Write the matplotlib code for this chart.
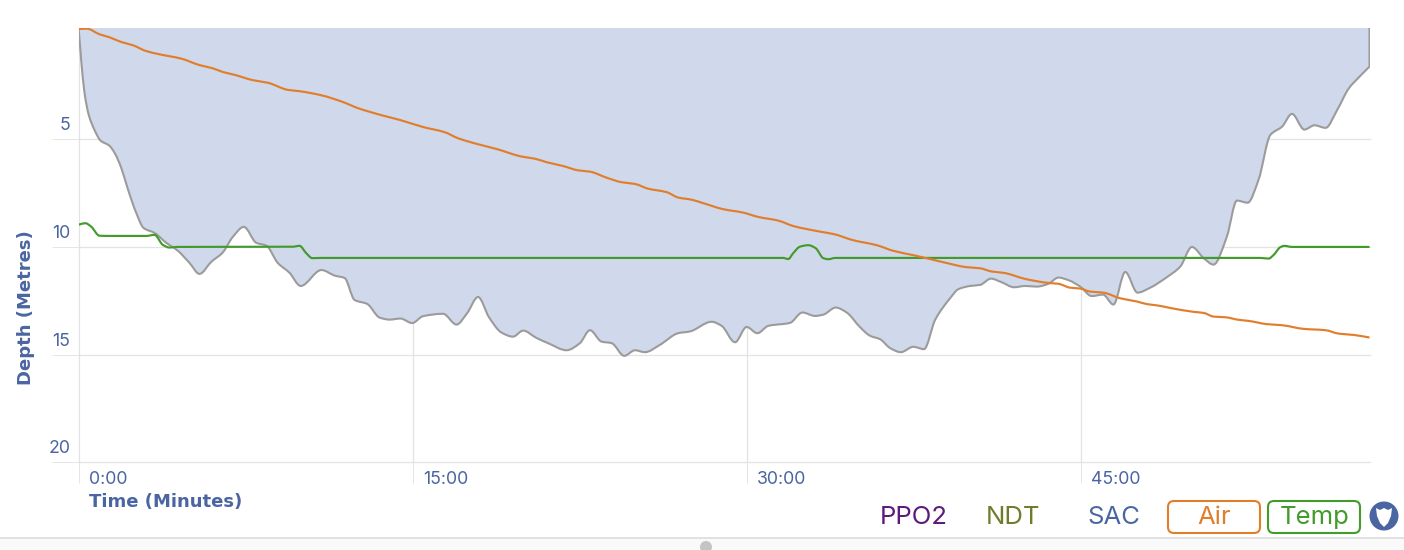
import numpy as np
import matplotlib
matplotlib.use("Agg")
import matplotlib.pyplot as plt
from matplotlib.path import Path
from matplotlib.patches import PathPatch, FancyBboxPatch, Circle, Polygon
from matplotlib.transforms import ScaledTranslation

# ---------- data ----------
depth_time = [0.0, 0.01, 0.12, 0.27, 0.46, 0.72, 0.99, 1.39, 1.62, 1.92, 2.20, 2.59, 2.92, 3.41, 3.94, 4.45, 4.98, 5.43,
              5.96, 6.47, 6.92, 7.42, 7.98, 8.43, 8.94, 9.47, 9.97, 10.90, 11.50, 11.94, 12.39, 12.95, 13.52, 13.96,
              14.45, 14.97, 15.46, 16.36, 16.96, 17.44, 17.93, 18.42, 18.98, 19.50, 19.95, 20.55, 21.07, 21.90, 22.50,
              22.95, 23.47, 23.92, 24.49, 24.97, 25.42, 26.09, 26.91, 27.43, 28.41, 28.86, 29.46, 29.98, 30.46, 30.95,
              31.93, 32.48, 33.05, 33.42, 33.98, 34.47, 35.07, 35.52, 35.97, 36.42, 36.90, 37.46, 37.94, 38.44, 39.11,
              39.48, 40.01, 40.46, 40.94, 41.43, 41.98, 42.48, 43.00, 43.52, 43.97, 44.42, 44.95, 45.47, 45.97, 46.44,
              46.97, 47.52, 48.09, 48.84, 49.44, 49.96, 50.49, 50.93, 51.53, 51.98, 52.46, 52.95, 53.48, 54.01, 54.45,
              55.01, 55.46, 55.96, 56.48, 57.00, 57.45, 57.93]
depth_m = [-0.14, -0.05, 1.34, 2.87, 3.89, 4.59, 5.08, 5.32, 5.65, 6.35, 7.28, 8.43, 9.13, 9.36, 9.82, 10.18, 10.75, 11.26,
           10.70, 10.27, 9.55, 9.08, 9.82, 9.95, 10.75, 11.21, 11.82, 11.08, 11.34, 11.45, 12.47, 12.65, 13.29, 13.38,
           13.33, 13.54, 13.22, 13.11, 13.61, 13.08, 12.33, 13.27, 13.98, 14.17, 13.89, 14.23, 14.47, 14.80, 14.47,
           13.87, 14.40, 14.47, 15.06, 14.80, 14.89, 14.55, 14.01, 13.93, 13.48, 13.67, 14.43, 13.72, 14.01, 13.67,
           13.53, 13.05, 13.21, 13.15, 12.82, 13.05, 13.73, 14.13, 14.29, 14.70, 14.89, 14.64, 14.75, 13.39, 12.39,
           11.97, 11.82, 11.77, 11.48, 11.65, 11.88, 11.82, 11.85, 11.72, 11.43, 11.55, 11.85, 12.29, 12.22, 12.68,
           11.17, 12.13, 11.90, 11.41, 10.92, 10.01, 10.53, 10.83, 9.53, 7.86, 7.96, 6.90, 4.82, 4.43, 3.84,
           4.57, 4.37, 4.49, 3.66, 2.66, 2.15, 1.65]

air_time = [0.0, 0.37, 0.94, 1.39, 1.92, 2.44, 3.04, 3.64, 4.61, 5.43, 6.03, 6.48, 7.00, 7.83, 8.50, 9.40, 9.92, 10.90,
            11.94, 12.47, 13.66, 14.41, 15.46, 16.43, 17.03, 17.93, 18.76, 19.88, 20.48, 21.00, 21.75, 22.42, 22.95,
            23.70, 24.37, 24.97, 25.56, 26.39, 26.91, 27.51, 28.03, 28.93, 29.83, 30.50, 31.40, 32.07, 33.27, 33.87,
            34.77, 35.82, 36.56, 37.54, 38.81, 39.86, 40.46, 40.98, 41.50, 42.55, 43.52, 43.97, 44.50, 44.95, 45.39,
            45.99, 46.74, 47.49, 47.94, 48.46, 48.99, 50.04, 50.49, 50.93, 51.46, 52.06, 52.51, 53.33, 54.01, 54.98,
            55.95, 56.55, 57.22, 57.93]
air_pos = [-0.09, -0.11, 0.15, 0.29, 0.51, 0.66, 0.93, 1.08, 1.28, 1.58, 1.73, 1.90, 2.03, 2.28, 2.40, 2.73, 2.79, 2.98,
           3.32, 3.55, 3.92, 4.12, 4.45, 4.69, 4.97, 5.25, 5.47, 5.82, 5.92, 6.08, 6.26, 6.46, 6.52,
           6.80, 7.01, 7.09, 7.31, 7.47, 7.72, 7.82, 7.98, 8.26, 8.42, 8.62, 8.79, 9.04, 9.30, 9.41,
           9.70, 9.93, 10.19, 10.41, 10.72, 10.95, 11.00, 11.15, 11.21, 11.51, 11.68, 11.72, 11.90, 11.94, 12.08,
           12.13, 12.39, 12.54, 12.66, 12.73, 12.84, 13.02, 13.07, 13.24, 13.27, 13.39, 13.44, 13.59, 13.64, 13.81,
           13.87, 14.03, 14.09, 14.21]

temp_time = [0.0, 0.31, 0.57, 0.94, 1.39, 3.04, 3.41, 3.79, 4.09, 4.39, 9.62, 9.92, 10.22, 10.49, 10.90, 31.61, 31.85,
             32.07, 32.37, 32.75, 33.08, 33.42, 33.65, 33.95, 53.03, 53.40, 53.63, 53.93, 54.11, 54.45, 57.93]
temp_pos = [8.98, 8.91, 9.07, 9.49, 9.50, 9.50, 9.45, 9.92, 10.04, 10.01, 10.00, 9.96, 10.30, 10.53, 10.52, 10.52, 10.57,
            10.30, 10.00, 9.93, 10.07, 10.53, 10.58, 10.52, 10.52, 10.55, 10.38, 10.02, 9.96, 10.01, 10.01]

x_ticks = [0, 15, 30, 45]
x_labels = ["0:00", "15:00", "30:00", "45:00"]
y_ticks = [5, 10, 15, 20]
y_labels = ["5", "10", "15", "20"]
inactive_legend = ["PPO2", "NDT", "SAC"]
active_legend = ["Air", "Temp"]

# ---------- style ----------
W, H = 1404, 550
BLUE = "#4a65a1"
FILL = "#d0d9eb"
GRID = "#e3e3e3"
GRAY = "#9b9b9b"
ORANGE = "#e07e2c"
GREEN = "#439b2c"
plt.rcParams["font.family"] = ["Inter", "DejaVu Sans"]


def smooth_codes(x, y):
    """Shape-preserving cubic Bezier path through the given points."""
    x, y = np.asarray(x, float), np.asarray(y, float)
    h = np.diff(x)
    s = np.diff(y) / h
    m = np.zeros_like(x)
    for i in range(1, len(x) - 1):
        if s[i - 1] * s[i] > 0:
            w1, w2 = 2 * h[i] + h[i - 1], h[i] + 2 * h[i - 1]
            m[i] = (w1 + w2) / (w1 / s[i - 1] + w2 / s[i])
    m[0], m[-1] = s[0], s[-1]
    verts, codes = [(x[0], y[0])], [Path.MOVETO]
    for i in range(len(h)):
        verts += [(x[i] + h[i] / 3, y[i] + m[i] * h[i] / 3),
                  (x[i + 1] - h[i] / 3, y[i + 1] - m[i + 1] * h[i] / 3),
                  (x[i + 1], y[i + 1])]
        codes += [Path.CURVE4] * 3
    return verts, codes


fig = plt.figure(figsize=(W / 100, H / 100), dpi=100, facecolor="white")
L, R, T, B = 78.5, 1369.5, 28, 462.4
ax = fig.add_axes([L / W, 1 - B / H, (R - L) / W, (B - T) / H])
ax.set_xlim(0, 57.93)
ax.set_ylim(20, -0.14)
ax.patch.set_visible(False)
for s in ax.spines.values():
    s.set_visible(False)

ax.set_xticks(x_ticks, x_labels)
ax.set_yticks(y_ticks, y_labels)
ax.grid(True, color=GRID, lw=0.9)
for g in ax.get_xgridlines() + ax.get_ygridlines():
    g.set_clip_on(False)
ax.set_axisbelow(True)
ax.tick_params(axis="x", length=15, width=0.65, color=GRID, pad=0, labelsize=12.8, labelcolor=BLUE)
ax.tick_params(axis="y", length=19.5, width=0.65, color=GRID, pad=0, labelsize=12.8, labelcolor=BLUE)
for lab in ax.get_xticklabels():
    lab.set_ha("left")
    lab.set_transform(lab.get_transform() + ScaledTranslation(10 / 100, 12 / 100, fig.dpi_scale_trans))
for lab in ax.get_yticklabels():
    lab.set_va("bottom")
    lab.set_transform(lab.get_transform() + ScaledTranslation(19 / 100, 5 / 100, fig.dpi_scale_trans))

# depth area and outline
verts, codes = smooth_codes(depth_time, depth_m)
top = ax.get_ylim()[1]
area = Path(verts + [(depth_time[-1], top), verts[0]], codes + [Path.LINETO, Path.CLOSEPOLY])
ax.add_patch(PathPatch(area, facecolor=FILL, edgecolor="none", zorder=2))
outline = Path(verts + [(depth_time[-1], top)], codes + [Path.LINETO])
ax.add_patch(PathPatch(outline, facecolor="none", edgecolor=GRAY, lw=1.5, zorder=3, joinstyle="round"))

# temp & air
for xs, ys, col, z in [(temp_time, temp_pos, GREEN, 4), (air_time, air_pos, ORANGE, 5)]:
    v, c = smooth_codes(xs, ys)
    ax.add_patch(PathPatch(Path(v, c), facecolor="none", edgecolor=col, lw=1.55, zorder=z))

# overlay in pixel coordinates for labels and page furniture
ov = fig.add_axes([0, 0, 1, 1], zorder=-1)
ov.set_xlim(0, W)
ov.set_ylim(H, 0)
ov.axis("off")
ov2 = fig.add_axes([0, 0, 1, 1], zorder=10)
ov2.set_xlim(0, W)
ov2.set_ylim(H, 0)
ov2.axis("off")
ov2.patch.set_visible(False)

ov2.text(89, 502, "Time (Minutes)", color=BLUE, fontsize=13, fontweight="bold", family="DejaVu Sans",
         ha="left", va="center")
ov2.text(26, 308, "Depth (Metres)", color=BLUE, fontsize=13, fontweight="bold", family="DejaVu Sans",
         ha="center", va="center", rotation=90)

for label, x, col in zip(inactive_legend, [913.5, 1013.5, 1113.5], ["#5d1a7b", "#6f7d2a", BLUE]):
    ov2.text(x, 517.5, label, color=col, fontsize=18.5, ha="center", va="center")
for label, x0, tx, col in zip(active_legend, [1168, 1268], [1214, 1314.5], [ORANGE, GREEN]):
    ov2.add_patch(FancyBboxPatch((x0 + 6, 507), 80, 20, boxstyle="round,pad=6,rounding_size=6",
                                 fc="white", ec=col, lw=1.5))
    ov2.text(tx, 517.5, label, color=col, fontsize=18.5, ha="center", va="center")

ov2.add_patch(Circle((1384, 516), 14.5, fc=BLUE, ec="none"))
ov2.add_patch(Polygon([(1376, 508), (1380, 510), (1384, 508), (1388, 510), (1392, 508), (1391, 516), (1388, 523),
                       (1384, 527), (1380, 523), (1377, 516)], closed=True, fc="white", ec="none"))

# bottom strip
ov.fill_between([0, W], [538, 538], [550, 550], color="#fafafa", lw=0)
ov.plot([0, W], [537.8, 537.8], color="#dcdcdc", lw=1.2)
ov2.add_patch(Circle((706, 547), 6, fc="#c4c4c4", ec="none"))

fig.savefig("out.png", dpi=100, facecolor="white")
